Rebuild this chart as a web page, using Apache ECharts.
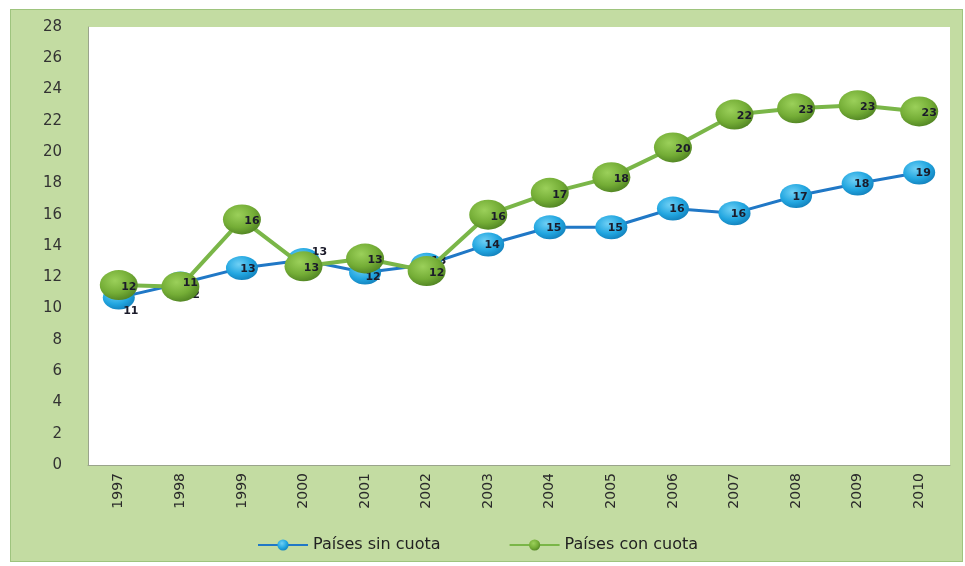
<!DOCTYPE html>
<html>
<head>
<meta charset="utf-8">
<script src="https://cdn.jsdelivr.net/npm/echarts@6/dist/echarts.min.js"></script>
<style>
html,body{margin:0;padding:0;background:#fff;}
#frame{position:absolute;left:10px;top:9px;width:951px;height:551px;background:#c3dca2;border:1px solid #9ec47e;}
#chart{position:absolute;left:0;top:0;width:965px;height:566px;}
</style>
</head>
<body>
<div id="frame"></div>
<div id="chart"></div>
<script>
var categories = ['1997','1998','1999','2000','2001','2002','2003','2004','2005','2006','2007','2008','2009','2010'];
var sinCuota = [10.7, 11.6, 12.6, 13.1, 12.3, 12.8, 14.1, 15.2, 15.2, 16.4, 16.1, 17.2, 18.0, 18.7];
var conCuota = [11.5, 11.4, 15.7, 12.7, 13.2, 12.4, 16.0, 17.4, 18.4, 20.3, 22.4, 22.8, 23.0, 22.6];
var yTicks = [0, 2, 4, 6, 8, 10, 12, 14, 16, 18, 20, 22, 24, 26, 28];

var blueOffsets = {0:[12,14], 1:[12,12], 3:[16,-8], 2:[6,1], 4:[8,5], 5:[12,-4]};
var greenOffsets = {1:[10,-4], 3:[8,2]};

function buildData(vals, offs, def) {
  return vals.map(function (v, i) {
    return { value: v, label: { offset: offs[i] || def } };
  });
}

var blueSphere = new echarts.graphic.RadialGradient(0.4, 0.35, 0.7, [
  {offset: 0, color: '#6fd0f5'}, {offset: 0.6, color: '#22a6e0'}, {offset: 1, color: '#127fba'}
]);
var greenSphere = new echarts.graphic.RadialGradient(0.4, 0.35, 0.7, [
  {offset: 0, color: '#9bd05a'}, {offset: 0.6, color: '#74ad36'}, {offset: 1, color: '#4f8222'}
]);

var labelStyle = {
  show: true, position: 'inside', fontSize: 11, fontWeight: 'bold',
  fontFamily: 'DejaVu Sans', color: '#1b1b2a',
  formatter: function (p) { return Math.round(p.value); }
};

var chart = echarts.init(document.getElementById('chart'));
chart.setOption({
  animation: false,
  grid: { left: 88, right: 15, top: 27, bottom: 101, show: true, backgroundColor: '#ffffff', borderWidth: 0 },
  xAxis: {
    type: 'category', data: categories, boundaryGap: true,
    axisLine: { show: true, lineStyle: { color: '#9aa48c', width: 1 } },
    axisTick: { show: false },
    axisLabel: { rotate: 90, margin: 8, fontSize: 14, fontFamily: 'DejaVu Sans', color: '#2a2a2a' }
  },
  yAxis: {
    type: 'value', min: 0, max: 28, interval: 2,
    axisLine: { show: true, lineStyle: { color: '#9aa48c', width: 1 } },
    axisTick: { show: false },
    splitLine: { show: false },
    axisLabel: { margin: 26, fontSize: 15, fontFamily: 'DejaVu Sans', color: '#333',
      formatter: function (v) { return yTicks.indexOf(v) >= 0 ? String(v) : ''; } }
  },
  legend: {
    bottom: 8, left: 252, itemWidth: 50, itemHeight: 14, itemGap: 68,
    textStyle: { fontSize: 16, fontFamily: 'DejaVu Sans', color: '#222' },
    data: ['Países sin cuota', 'Países con cuota']
  },
  series: [
    {
      name: 'Países sin cuota', type: 'line', data: buildData(sinCuota, blueOffsets, [4, 1]),
      symbol: 'circle', symbolSize: [32, 24],
      lineStyle: { color: '#2078c6', width: 3 },
      itemStyle: { color: blueSphere, borderWidth: 0 },
      label: labelStyle, z: 2
    },
    {
      name: 'Países con cuota', type: 'line', data: buildData(conCuota, greenOffsets, [10, 2]),
      symbol: 'circle', symbolSize: [38, 30],
      lineStyle: { color: '#7ab648', width: 4 },
      itemStyle: { color: greenSphere, borderWidth: 0 },
      label: labelStyle, z: 3
    }
  ]
});
</script>
</body>
</html>
